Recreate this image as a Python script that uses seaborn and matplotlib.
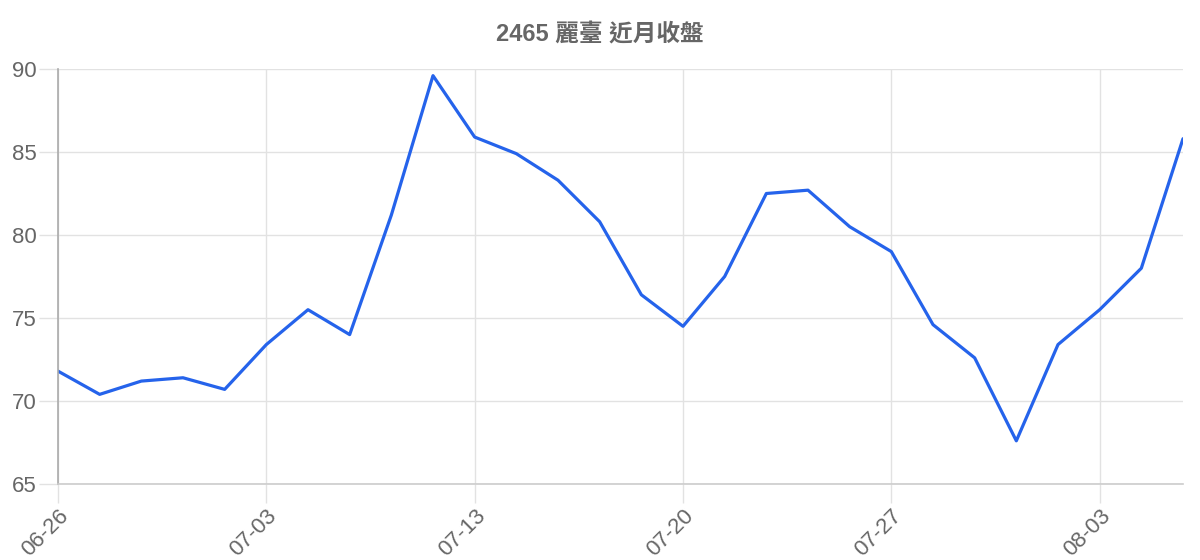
import matplotlib
matplotlib.use("Agg")
import matplotlib.pyplot as plt
import seaborn as sns
import pandas as pd

dates = ["06-26", "06-29", "06-30", "07-01", "07-02", "07-03", "07-06", "07-07",
         "07-08", "07-09", "07-13", "07-14", "07-15", "07-16", "07-17", "07-20",
         "07-21", "07-22", "07-23", "07-24", "07-27", "07-28", "07-29", "07-30",
         "07-31", "08-03", "08-04", "08-05"]
close = [71.8, 70.4, 71.2, 71.4, 70.7, 73.4, 75.5, 74.0, 81.2, 89.6, 85.9, 84.9,
         83.3, 80.8, 76.4, 74.5, 77.5, 82.5, 82.7, 80.5, 79.0, 74.6, 72.6, 67.6,
         73.4, 75.5, 78.0, 85.8]
y_ticks = [65, 70, 75, 80, 85, 90]
title = "2465 麗臺 近月收盤"

sns.set_theme(style="white")
plt.rcParams['font.family'] = ['Liberation Sans', 'Noto Sans CJK TC', 'DejaVu Sans']

df = pd.DataFrame({"pos": list(range(len(dates))), "date": dates, "close": close})

fig = plt.figure(figsize=(12, 5.6), dpi=100)
ax = fig.add_axes([58/1200, 1-484/560, (1183-58)/1200, (484-69)/560])

sns.lineplot(data=df, x="pos", y="close", ax=ax, color="#2563eb", linewidth=2.3)

ax.set_xlim(0, len(dates) - 1)
ax.set_ylim(65, 90)
ax.set_yticks(y_ticks)
ax.set_yticklabels([str(v) for v in y_ticks])
xt = list(range(0, len(dates), 5))
ax.set_xticks(xt)
ax.set_xticklabels([dates[i] for i in xt], rotation=45, ha="right", va="top",
                   rotation_mode="anchor")
ax.set_xlabel("")
ax.set_ylabel("")

ax.grid(True, color="#e2e2e2", linewidth=1.0)
ax.tick_params(axis="both", colors="#e2e2e2", labelcolor="#666666", labelsize=16,
               length=14, width=1.0, pad=1.5, left=True, bottom=True)

for s in ["top", "right"]:
    ax.spines[s].set_visible(False)
ax.spines["left"].set_color("#aaaaaa")
ax.spines["left"].set_linewidth(1.2)
ax.spines["bottom"].set_color("#cccccc")
ax.spines["bottom"].set_linewidth(1.2)

fig.text(600/1200, 1-35/560, title, ha="center", va="center", fontsize=17,
         fontweight="bold", color="#666666",
         family=['Liberation Sans', 'Noto Sans CJK TC', 'DejaVu Sans'])

fig.savefig("out.png", dpi=100)
